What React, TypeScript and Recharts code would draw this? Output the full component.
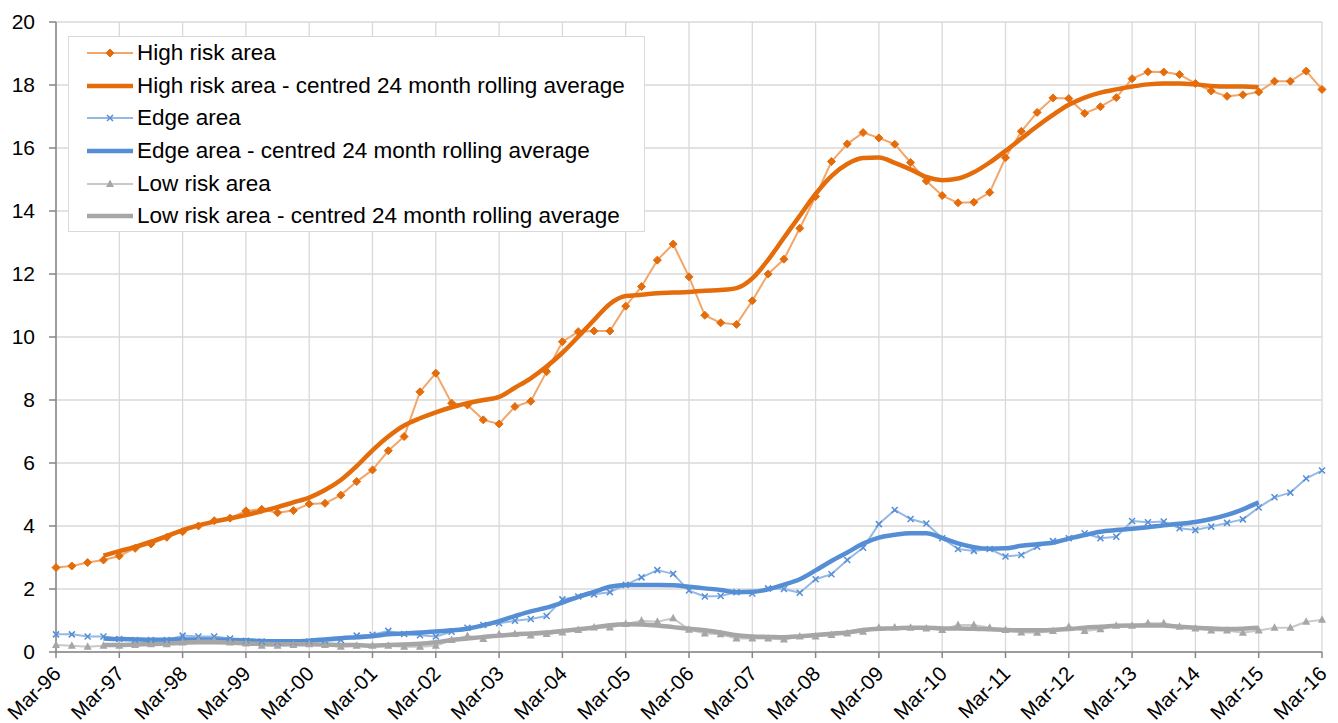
import React from "react";
import { LineChart, Line, XAxis, YAxis, CartesianGrid, Legend } from "recharts";

// quarterly values, Mar-96 .. Mar-16 (81 quarters)
const yearLabels = [
  "Mar-96", "Mar-97", "Mar-98", "Mar-99", "Mar-00", "Mar-01", "Mar-02",
  "Mar-03", "Mar-04", "Mar-05", "Mar-06", "Mar-07", "Mar-08", "Mar-09",
  "Mar-10", "Mar-11", "Mar-12", "Mar-13", "Mar-14", "Mar-15", "Mar-16",
];

const highRisk = [
  2.68, 2.73, 2.84, 2.92, 3.05, 3.29, 3.43, 3.64, 3.82, 4.0,
  4.17, 4.25, 4.48, 4.53, 4.42, 4.49, 4.7, 4.72, 4.98, 5.41,
  5.78, 6.39, 6.84, 8.26, 8.85, 7.9, 7.84, 7.37, 7.24, 7.79,
  7.96, 8.9, 9.85, 10.17, 10.19, 10.19, 10.98, 11.6, 12.44, 12.95,
  11.91, 10.69, 10.45, 10.4, 11.15, 12.0, 12.47, 13.45, 14.46, 15.57,
  16.13, 16.49, 16.32, 16.12, 15.54, 14.95, 14.49, 14.26, 14.28, 14.59,
  15.69, 16.53, 17.13, 17.59, 17.57, 17.1, 17.31, 17.6, 18.2, 18.42,
  18.41, 18.33, 18.05, 17.81, 17.64, 17.69, 17.78, 18.12, 18.12, 18.44, 17.86,
];

const highRiskAvg = [
  null, null, null,
  3.06, 3.2, 3.34, 3.5, 3.68, 3.87, 4.02, 4.14,
  4.24, 4.35, 4.47, 4.6, 4.75, 4.9, 5.14, 5.46, 5.9,
  6.4, 6.84, 7.19, 7.42, 7.61, 7.77, 7.9, 8.0, 8.1, 8.39,
  8.69, 9.06, 9.5, 10.01, 10.54, 11.05, 11.3, 11.34, 11.39, 11.41,
  11.43, 11.47, 11.49, 11.55, 11.86, 12.45, 13.15, 13.85, 14.54, 15.11,
  15.49, 15.68, 15.7, 15.53, 15.32, 15.08, 14.98, 15.03, 15.23, 15.54,
  15.91, 16.3, 16.69, 17.05, 17.37, 17.6, 17.76, 17.86, 17.95, 18.02,
  18.05, 18.05, 18.02, 17.97, 17.95, 17.95, 17.93,
  null, null, null, null,
];

const edge = [
  0.56, 0.56, 0.49, 0.49, 0.41, 0.38, 0.38, 0.38, 0.52, 0.49,
  0.49, 0.43, 0.36, 0.33, 0.3, 0.3, 0.33, 0.36, 0.38, 0.52,
  0.55, 0.67, 0.57, 0.53, 0.49, 0.64, 0.77, 0.86, 0.91, 0.99,
  1.05, 1.14, 1.67, 1.76, 1.83, 1.9, 2.13, 2.37, 2.6, 2.48,
  1.95, 1.76, 1.78, 1.9, 1.86, 2.02, 2.0, 1.88, 2.31, 2.47,
  2.92, 3.31, 4.06, 4.51, 4.22, 4.08, 3.61, 3.27, 3.21, 3.27,
  3.03, 3.08, 3.34, 3.52, 3.61, 3.77, 3.61, 3.66, 4.16, 4.12,
  4.14, 3.93, 3.87, 3.98, 4.1, 4.21, 4.59, 4.91, 5.06, 5.51, 5.76,
];

const edgeAvg = [
  null, null, null,
  0.43, 0.41, 0.4, 0.39, 0.39, 0.4, 0.4, 0.4,
  0.39, 0.37, 0.35, 0.34, 0.34, 0.36, 0.4, 0.44, 0.47,
  0.5, 0.56, 0.59, 0.62, 0.65, 0.69, 0.74, 0.85, 0.98, 1.14,
  1.29, 1.41, 1.57, 1.75, 1.91, 2.07, 2.13, 2.13, 2.13, 2.12,
  2.07, 2.02, 1.97, 1.9, 1.91, 1.99, 2.14, 2.31, 2.59, 2.89,
  3.16, 3.44, 3.63, 3.72, 3.77, 3.77, 3.62, 3.45, 3.33, 3.28,
  3.29, 3.37, 3.42, 3.47, 3.6, 3.71, 3.82, 3.87, 3.91, 3.96,
  4.02, 4.07, 4.13, 4.22, 4.35, 4.53, 4.75,
  null, null, null, null,
];

const lowRisk = [
  0.22, 0.2, 0.17, 0.2, 0.2, 0.22, 0.25, 0.25, 0.3, 0.36,
  0.36, 0.3, 0.27, 0.2, 0.2, 0.22, 0.25, 0.22, 0.17, 0.2,
  0.2, 0.2, 0.17, 0.17, 0.2, 0.38, 0.51, 0.41, 0.56, 0.57,
  0.52, 0.57, 0.62, 0.7, 0.78, 0.78, 0.89, 0.99, 0.96, 1.07,
  0.71, 0.59, 0.56, 0.43, 0.43, 0.43, 0.4, 0.49, 0.49, 0.54,
  0.59, 0.64, 0.77, 0.78, 0.77, 0.75, 0.7, 0.86, 0.86, 0.77,
  0.7, 0.62, 0.61, 0.67, 0.8, 0.67, 0.72, 0.83, 0.83, 0.91,
  0.91, 0.8, 0.75, 0.68, 0.68, 0.61, 0.68, 0.77, 0.77, 0.96, 1.02,
];

const lowRiskAvg = [
  null, null, null,
  0.22, 0.22, 0.24, 0.25, 0.27, 0.29, 0.31, 0.31,
  0.3, 0.27, 0.26, 0.25, 0.25, 0.25, 0.24, 0.22, 0.22,
  0.2, 0.22, 0.24, 0.26, 0.31, 0.38, 0.43, 0.48, 0.52, 0.56,
  0.59, 0.62, 0.67, 0.72, 0.78, 0.85, 0.88, 0.87, 0.84, 0.79,
  0.74, 0.69, 0.62, 0.53, 0.49, 0.48, 0.47, 0.5, 0.54, 0.58,
  0.62, 0.7, 0.74, 0.75, 0.77, 0.77, 0.75, 0.75, 0.74, 0.72,
  0.7, 0.69, 0.69, 0.7, 0.73, 0.77, 0.8, 0.83, 0.84, 0.84,
  0.84, 0.8, 0.77, 0.75, 0.73, 0.74, 0.77,
  null, null, null, null,
];

const yTicks = [0, 2, 4, 6, 8, 10, 12, 14, 16, 18, 20];

const data = highRisk.map((v, i) => ({
  idx: i,
  high: v,
  highAvg: highRiskAvg[i],
  edge: edge[i],
  edgeAvg: edgeAvg[i],
  low: lowRisk[i],
  lowAvg: lowRiskAvg[i],
}));
const xTicks = yearLabels.map((_, i) => i * 4);

const FONT = '"Liberation Sans", Arial, sans-serif';
const ORANGE = "#E46C0A";
const BLUE = "#558ED5";
const GREY = "#A6A6A6";

type Marker = "diamond" | "cross" | "triangle" | null;

const styles: Record<string, { color: string; width: number; marker: Marker; markerColor: string }> = {
  high: { color: "#F2A66A", width: 2, marker: "diamond", markerColor: ORANGE },
  highAvg: { color: ORANGE, width: 4.5, marker: null, markerColor: ORANGE },
  edge: { color: "#95B9E6", width: 2, marker: "cross", markerColor: BLUE },
  edgeAvg: { color: BLUE, width: 4.5, marker: null, markerColor: BLUE },
  low: { color: "#C9C9C9", width: 2, marker: "triangle", markerColor: GREY },
  lowAvg: { color: GREY, width: 4.5, marker: null, markerColor: GREY },
};

const series = [
  { key: "high", name: "High risk area", smooth: false },
  { key: "highAvg", name: "High risk area - centred 24 month rolling average", smooth: true },
  { key: "edge", name: "Edge area", smooth: false },
  { key: "edgeAvg", name: "Edge area - centred 24 month rolling average", smooth: true },
  { key: "low", name: "Low risk area", smooth: false },
  { key: "lowAvg", name: "Low risk area - centred 24 month rolling average", smooth: true },
];
const seriesOrder = series.map((s) => s.key);

function markerShape(type: Marker, cx: number, cy: number, color: string, key?: string) {
  if (type === "diamond") {
    return <path key={key} d={`M${cx},${cy - 4}L${cx + 4},${cy}L${cx},${cy + 4}L${cx - 4},${cy}Z`} fill={color} stroke={color} strokeWidth={1} />;
  }
  if (type === "cross") {
    const s = 3;
    return (
      <path key={key} d={`M${cx - s},${cy - s}L${cx + s},${cy + s}M${cx - s},${cy + s}L${cx + s},${cy - s}`} stroke={color} strokeWidth={1.5} fill="none" />
    );
  }
  if (type === "triangle") {
    return <path key={key} d={`M${cx},${cy - 4.5}L${cx + 4},${cy + 3}L${cx - 4},${cy + 3}Z`} fill={color} />;
  }
  return null;
}

const makeDot = (k: string) => (props: any) => {
  const { cx, cy, index, value } = props;
  if (cx == null || cy == null || value == null) return <g key={`${k}-${index}`} />;
  return markerShape(styles[k].marker, cx, cy, styles[k].markerColor, `${k}-${index}`);
};

const XTick = (props: any) => {
  const { x, y, payload } = props;
  return (
    <text
      transform={`translate(${x + 6},${y + 15}) rotate(-45)`}
      textAnchor="end"
      fontSize={20.5}
      fontFamily={FONT}
      fill="#000"
    >
      {yearLabels[payload.value / 4]}
    </text>
  );
};

const LegendBox = (props: any) => {
  const items = [...(props.payload || [])].sort(
    (a: any, b: any) => seriesOrder.indexOf(a.dataKey) - seriesOrder.indexOf(b.dataKey)
  );
  return (
    <div
      style={{
        width: 575,
        height: 194,
        border: "1px solid #D9D9D9",
        background: "#fff",
        fontFamily: FONT,
        fontSize: 22.5,
        color: "#000",
        overflow: "hidden",
      }}
    >
      {items.map((entry: any) => {
        const st = styles[entry.dataKey];
        return (
          <div key={entry.dataKey} style={{ height: 32.6, display: "flex", alignItems: "center" }}>
            <svg width={48} height={20} style={{ marginLeft: 17, marginRight: 3 }}>
              <line x1={1} y1={10} x2={47} y2={10} stroke={st.color} strokeWidth={st.width} />
              {markerShape(st.marker, 24, 10, st.markerColor)}
            </svg>
            <span style={{ whiteSpace: "nowrap" }}>{entry.value}</span>
          </div>
        );
      })}
    </div>
  );
};

export default function App() {
  return (
    <div style={{ position: "absolute", left: 0, top: 0, background: "#fff" }}>
      <LineChart width={1338} height={723} data={data} margin={{ top: 22, right: 16, bottom: 0, left: 0 }}>
        <CartesianGrid stroke="#D9D9D9" strokeWidth={1.3} />
        <XAxis
          dataKey="idx"
          type="number"
          domain={[0, 80]}
          ticks={xTicks}
          interval={0}
          height={71}
          tickSize={6}
          tickMargin={2}
          axisLine={{ stroke: "#868686", strokeWidth: 1.5 }}
          tickLine={{ stroke: "#868686", strokeWidth: 1.5 }}
          tick={<XTick />}
        />
        <YAxis
          domain={[0, 20]}
          ticks={yTicks}
          interval={0}
          width={56}
          tickSize={7}
          tickMargin={14}
          axisLine={{ stroke: "#868686", strokeWidth: 1.5 }}
          tickLine={{ stroke: "#868686", strokeWidth: 1.5 }}
          tick={{ fill: "#000", fontSize: 21, fontFamily: FONT }}
        />
        <Legend
          layout="vertical"
          verticalAlign="middle"
          align="center"
          content={<LegendBox />}
          wrapperStyle={{ left: 68, top: 36, width: 577, height: 196 }}
        />
        {series.map((s) => (
          <Line
            key={s.key}
            dataKey={s.key}
            name={s.name}
            type={s.smooth ? "monotone" : "linear"}
            stroke={styles[s.key].color}
            strokeWidth={styles[s.key].width}
            dot={s.smooth ? false : makeDot(s.key)}
            activeDot={false}
            isAnimationActive={false}
            strokeLinejoin="round"
          />
        ))}
      </LineChart>
    </div>
  );
}
